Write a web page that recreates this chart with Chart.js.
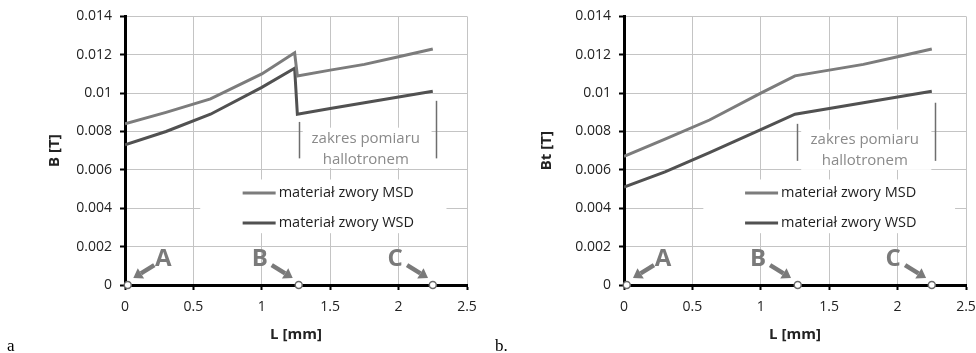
<!DOCTYPE html>
<html>
<head>
<meta charset="utf-8">
<script src="https://cdn.jsdelivr.net/npm/chart.js@4"></script>
<style>
  html, body { margin: 0; padding: 0; background: #fff; }
  .panel { position: absolute; top: 0; width: 488px; height: 353px; }
</style>
</head>
<body>
<div class="panel" style="left:0"><canvas id="chartA"></canvas></div>
<div class="panel" style="left:488px"><canvas id="chartB"></canvas></div>
<script>
// data
const xTicks = [0, 0.5, 1, 1.5, 2, 2.5];
const yTicks = [0, 0.002, 0.004, 0.006, 0.008, 0.01, 0.012, 0.014];
const seriesNames = ['materiał zwory MSD', 'materiał zwory WSD'];

// panel a: B along L (jump at the pole edge)
const xA = [0, 0.3, 0.625, 1.0, 1.24, 1.26, 1.5, 1.75, 2.0, 2.25];
const msdA = [0.0084, 0.0090, 0.0097, 0.0110, 0.0121, 0.0109, 0.0112, 0.0115, 0.0119, 0.0123];
const wsdA = [0.0073, 0.0080, 0.0089, 0.0103, 0.0113, 0.0089, 0.0092, 0.0095, 0.0098, 0.0101];

// panel b: Bt along L
const xB = [0, 0.3, 0.625, 1.0, 1.25, 1.5, 1.75, 2.0, 2.25];
const msdB = [0.0067, 0.0076, 0.0086, 0.0100, 0.0109, 0.0112, 0.0115, 0.0119, 0.0123];
const wsdB = [0.0051, 0.0059, 0.0069, 0.0081, 0.0089, 0.0092, 0.0095, 0.0098, 0.0101];

// measuring points A, B, C on the L axis
const markLabels = ['A', 'B', 'C'];
const markX = [0.02, 1.27, 2.25];
const markY = [0, 0, 0];

const FONT = '"Open Sans", "Noto Sans", sans-serif';
const MSD_COLOR = '#7c7c7c';
const WSD_COLOR = '#515151';
const NOTE_COLOR = '#7a7a7a';

// arrow offsets (px) from letter centre: [tailDx, tailDy, tipDx, tipDy]
const arrowShape = { A: [-9, 6, -30, 19], B: [12, 6, 33, 19], C: [12, 6, 33, 19] };

const overlay = {
  id: 'overlay',
  beforeDatasetsDraw(chart, args, o) {
    const ctx = chart.ctx, xs = chart.scales.x, ys = chart.scales.y;
    ctx.save();
    // white box behind range text
    const l = xs.getPixelForValue(o.bars[0][0]) + 4, r = xs.getPixelForValue(o.bars[1][0]) - 4;
    const t = ys.getPixelForValue(o.textTop), b = ys.getPixelForValue(o.textBottom);
    ctx.fillStyle = '#fff';
    ctx.fillRect(l, t, r - l, b - t);
    // range bars
    ctx.strokeStyle = '#6e6e6e';
    ctx.lineWidth = 1.5;
    o.bars.forEach(([x, y1, y2]) => {
      const px = Math.round(xs.getPixelForValue(x)) + 0.5;
      ctx.beginPath();
      ctx.moveTo(px, ys.getPixelForValue(y1));
      ctx.lineTo(px, ys.getPixelForValue(y2));
      ctx.stroke();
    });
    ctx.fillStyle = '#8a8a8a';
    ctx.font = '15px ' + FONT;
    ctx.textAlign = 'center';
    ctx.textBaseline = 'middle';
    const tx = xs.getPixelForValue(o.textX);
    ctx.fillText('zakres pomiaru', tx, ys.getPixelForValue(o.textY[0]));
    ctx.fillText('hallotronem', tx, ys.getPixelForValue(o.textY[1]));

    // legend box
    const lx = xs.getPixelForValue(o.legend.x0), rx = xs.getPixelForValue(o.legend.x1);
    const ly = ys.getPixelForValue(o.legend.y0), by = ys.getPixelForValue(o.legend.y1);
    ctx.fillStyle = '#fff';
    ctx.fillRect(lx, ly, rx - lx, by - ly);
    const sx = xs.getPixelForValue(o.legend.lineX);
    ctx.font = '14.5px ' + FONT;
    ctx.textAlign = 'left';
    o.legend.rows.forEach((ry, i) => {
      const ds = chart.data.datasets[i];
      const py = ys.getPixelForValue(ry);
      ctx.strokeStyle = ds.borderColor;
      ctx.lineWidth = 3;
      ctx.beginPath();
      ctx.moveTo(sx, py);
      ctx.lineTo(sx + 33, py);
      ctx.stroke();
      ctx.fillStyle = '#1e1e1e';
      ctx.fillText(ds.label, sx + 36, py);
    });
    ctx.restore();
  },
  afterDatasetsDraw(chart, args, o) {
    const ctx = chart.ctx, xs = chart.scales.x, ys = chart.scales.y;
    ctx.save();
    ctx.fillStyle = NOTE_COLOR;
    ctx.strokeStyle = NOTE_COLOR;
    ctx.font = 'bold 24px ' + FONT;
    ctx.textAlign = 'center';
    ctx.textBaseline = 'middle';
    markLabels.forEach((lab, i) => {
      const cx = xs.getPixelForValue(o.letterX[i]);
      const cy = ys.getPixelForValue(o.letterY);
      ctx.fillText(lab, cx, cy);
      const [a, b2, c, d] = arrowShape[lab];
      const x1 = cx + a, y1 = cy + b2, x2 = cx + c, y2 = cy + d;
      const ang = Math.atan2(y2 - y1, x2 - x1);
      const hx = x2 - 9 * Math.cos(ang), hy = y2 - 9 * Math.sin(ang);
      ctx.lineWidth = 4.5;
      ctx.beginPath();
      ctx.moveTo(x1, y1);
      ctx.lineTo(hx, hy);
      ctx.stroke();
      ctx.beginPath();
      ctx.moveTo(x2, y2);
      ctx.lineTo(hx + 6 * Math.sin(ang), hy - 6 * Math.cos(ang));
      ctx.lineTo(hx - 6 * Math.sin(ang), hy + 6 * Math.cos(ang));
      ctx.closePath();
      ctx.fill();
    });
    ctx.restore();
  },
  afterDraw(chart, args, o) {
    const ctx = chart.ctx;
    ctx.save();
    ctx.fillStyle = '#000';
    ctx.font = '17px "Liberation Serif", "DejaVu Serif", serif';
    ctx.textAlign = 'left';
    ctx.textBaseline = 'alphabetic';
    ctx.fillText(o.tag, 7, 351);
    ctx.restore();
  }
};

function pts(xv, yv) {
  return xv.map((x, i) => ({ x: x, y: yv[i] }));
}

function makeChart(id, cfg) {
  return new Chart(id, {
    type: 'line',
    data: {
      datasets: [
        { label: seriesNames[0], data: pts(cfg.x, cfg.msd), borderColor: MSD_COLOR, borderWidth: 3, pointRadius: 0, tension: 0 },
        { label: seriesNames[1], data: pts(cfg.x, cfg.wsd), borderColor: WSD_COLOR, borderWidth: 3, pointRadius: 0, tension: 0 },
        { label: 'points', data: pts(markX, markY), showLine: false, pointRadius: 3.5,
          pointBackgroundColor: '#fff', pointBorderColor: '#6a6a6a', pointBorderWidth: 1.5, clip: false }
      ]
    },
    options: {
      responsive: true,
      maintainAspectRatio: false,
      animation: false,
      events: [],
      layout: { padding: { left: cfg.padL, right: cfg.padR, top: 16, bottom: 5 } },
      plugins: {
        legend: { display: false },
        tooltip: { enabled: false },
        overlay: cfg.overlay
      },
      scales: {
        x: {
          type: 'linear', min: 0, max: 2.5,
          afterBuildTicks: s => { s.ticks = xTicks.map(v => ({ value: v })); },
          afterFit: s => { s.height = 63; s.paddingRight = 0; },
          ticks: { color: '#222', font: { family: FONT, size: 14 }, padding: 9, maxRotation: 0,
                   callback: v => String(v) },
          grid: { color: '#c4c4c4', lineWidth: 1, tickLength: 5, tickColor: '#000', tickWidth: 2 },
          border: { color: '#000', width: 3 },
          title: { display: true, text: 'L [mm]', color: '#222', font: { family: FONT, size: 15, weight: 'bold' } }
        },
        y: {
          type: 'linear', min: 0, max: 0.014,
          afterBuildTicks: s => { s.ticks = yTicks.map(v => ({ value: v })); },
          afterFit: s => { s.width = cfg.yW; },
          ticks: { color: '#222', font: { family: FONT, size: 14 }, padding: 8,
                   callback: v => String(Number(v.toFixed(3))) },
          grid: { color: '#c4c4c4', lineWidth: 1, tickLength: 5, tickColor: '#000', tickWidth: 2 },
          border: { color: '#000', width: 3 },
          title: { display: true, text: cfg.yTitle, color: '#222', font: { family: FONT, size: 15, weight: 'bold' } }
        }
      }
    },
    plugins: [overlay]
  });
}

makeChart('chartA', {
  x: xA, msd: msdA, wsd: wsdA, yTitle: 'B [T]', padL: 42, padR: 21, yW: 83,
  overlay: {
    tag: 'a',
    bars: [[1.27, 0.0085, 0.0066], [2.27, 0.0096, 0.0066]],
    textX: 1.76, textY: [0.0076, 0.00655], textTop: 0.0082, textBottom: 0.0061,
    legend: { x0: 0.55, x1: 2.35, y0: 0.0055, y1: 0.0027, lineX: 0.86, rows: [0.0048, 0.00323] },
    letterX: [0.28, 0.985, 1.974], letterY: 0.00135
  }
});

makeChart('chartB', {
  x: xB, msd: msdB, wsd: wsdB, yTitle: 'Bt [T]', padL: 46, padR: 10, yW: 90,
  overlay: {
    tag: 'b.',
    bars: [[1.266, 0.0084, 0.00647], [2.276, 0.0095, 0.00647]],
    textX: 1.76, textY: [0.00755, 0.0065], textTop: 0.0081, textBottom: 0.006,
    legend: { x0: 0.58, x1: 2.42, y0: 0.0055, y1: 0.0027, lineX: 0.885, rows: [0.0048, 0.00323] },
    letterX: [0.285, 0.98, 1.967], letterY: 0.00135
  }
});
</script>
</body>
</html>
